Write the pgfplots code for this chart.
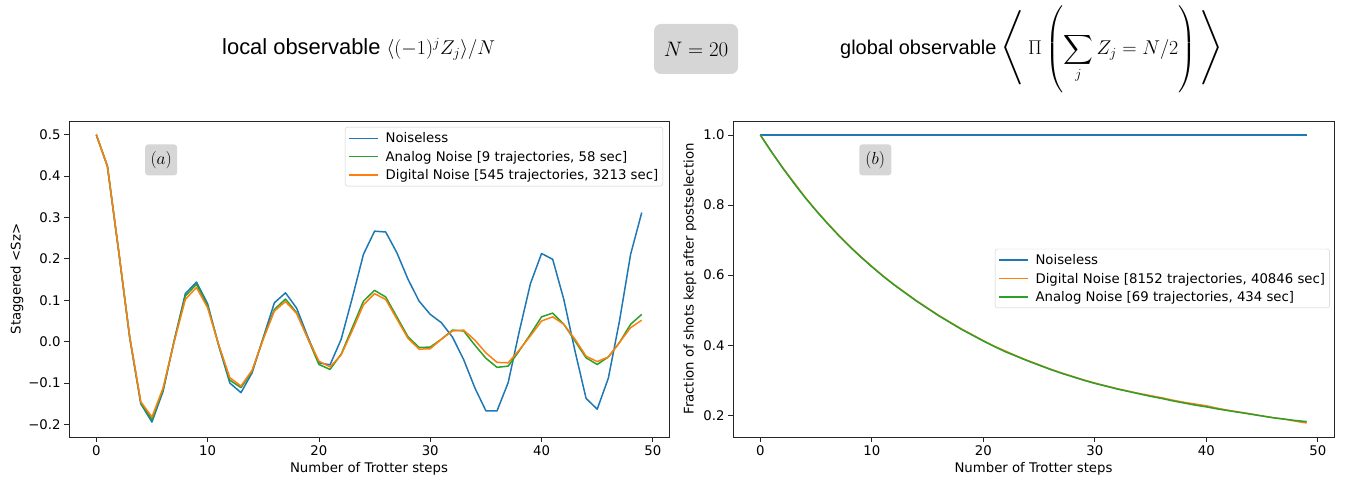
\RequirePackage{fix-cm}
\documentclass[border=0pt]{standalone}
\usepackage{amsmath}
\usepackage{graphicx}
\usepackage{fontspec}
\setmainfont{DejaVu Sans}
\newfontfamily\titlefont{Liberation Sans}
\usepackage{pgfplots}
\pgfplotsset{compat=1.18}
\definecolor{mplblue}{HTML}{1F77B4}
\definecolor{mplorange}{HTML}{FF7F0E}
\definecolor{mplgreen}{HTML}{2CA02C}
\definecolor{boxgray}{HTML}{D6D6D6}
\newcommand{\mplfont}{\fontsize{13.33}{15}\selectfont}
\newcommand{\lgs}{\rule[-3.4bp]{0pt}{14.2bp}}
\pgfplotsset{
  mystyle/.style={
    scale only axis, anchor=south west,
    width=600bp, height=316bp,
    xmin=-2.45, xmax=51.45,
    tick pos=left,
    tick align=outside, major tick length=4.9bp,
    every tick/.style={black!85, line width=0.8bp},
    axis line style={black!85, line width=0.8bp},
    ticklabel style={font=\mplfont},
    xtick={0,10,20,30,40,50}, xticklabels={0,10,20,30,40,50},
    minor tick num=0,
    every axis x label/.style={at={(axis description cs:0.5,0)}, anchor=center, yshift=-32bp, font=\mplfont},
    legend cell align=left,
    legend style={draw=black!20, rounded corners=2.5bp, fill=white, fill opacity=0.8, text opacity=1,
      font=\mplfont, row sep=1bp, inner xsep=2bp, inner ysep=2.5bp,
      nodes={inner sep=2.5bp}},
    legend image code/.code={\draw[#1, line width=1.5bp] (0bp,0bp) -- (29bp,0bp);
      \path (-1.5bp,0bp) (33bp,0bp);},
  },
  ln/.style={line width=1.5bp, line join=round},
}
\begin{document}
\begin{tikzpicture}[x=1bp,y=1bp]
\useasboundingbox (0,0) rectangle (1354,487);
% titles
\node[anchor=base west, inner sep=0pt, font=\fontsize{22}{26}\selectfont] at (222,432)
  {\titlefont local observable {\fontsize{20}{24}\selectfont$\langle(-1)^j Z_j\rangle/N$}};
\node[fill=boxgray, rounded corners=7bp, minimum width=84bp, minimum height=50bp, inner sep=0pt,
  font=\fontsize{21}{25}\selectfont] at (696,438) {$N=20$};
\node[anchor=base west, inner sep=0pt, font=\fontsize{20}{24}\selectfont] at (840,432.5)
  {\titlefont global observable};
\node[inner sep=0pt, font=\fontsize{27}{30}\selectfont] at (1013,439.5)
  {\scalebox{1.2}[1]{$\left\langle\vrule height 44.75bp depth 31.25bp width 0pt\right.$}};
\node[anchor=base west, inner sep=0pt, font=\fontsize{20}{24}\selectfont] at (1028,432.5)
  {$\Pi\left(\vrule height 50bp depth 40bp width 0pt\displaystyle\sum_j Z_j = N/2\right)$};
\node[inner sep=0pt, font=\fontsize{27}{30}\selectfont] at (1211,439.5)
  {\scalebox{1.2}[1]{$\left.\vrule height 44.75bp depth 31.25bp width 0pt\right\rangle$}};

% left axis
\begin{axis}[mystyle, at={(69bp,50bp)},
  ymin=-0.2302, ymax=0.5331,
  ytick={-0.2,-0.1,0,0.1,0.2,0.3,0.4,0.5},
  yticklabels={−0.2,−0.1,0.0,0.1,0.2,0.3,0.4,0.5},
  xlabel={Number of Trotter steps},
  ylabel={Staggered <Sz>},
  every axis y label/.style={at={(axis description cs:-0.0867,0.5)}, rotate=90, anchor=center, font=\mplfont},
  legend style={at={(0.99,0.981)}, anchor=north east},
]
\addplot[mplblue, ln] coordinates {
(0,0.500)(1,0.424)(2,0.220)(3,0.010)(4,-0.150)(5,-0.194)(6,-0.120)(7,0.003)(8,0.116)(9,0.144)
(10,0.092)(11,-0.010)(12,-0.100)(13,-0.123)(14,-0.075)(15,0.010)(16,0.094)(17,0.118)(18,0.081)(19,0.012)
(20,-0.051)(21,-0.056)(22,0.006)(23,0.106)(24,0.211)(25,0.267)(26,0.265)(27,0.215)(28,0.151)(29,0.098)
(30,0.066)(31,0.046)(32,0.011)(33,-0.043)(34,-0.111)(35,-0.167)(36,-0.167)(37,-0.099)(38,0.025)(39,0.140)
(40,0.213)(41,0.199)(42,0.102)(43,-0.022)(44,-0.137)(45,-0.163)(46,-0.088)(47,0.050)(48,0.211)(49,0.312)};
\addlegendentry{\lgs Noiseless}
\addplot[mplgreen, ln] coordinates {
(0,0.500)(1,0.424)(2,0.222)(3,0.012)(4,-0.148)(5,-0.188)(6,-0.115)(7,0.002)(8,0.110)(9,0.139)
(10,0.086)(11,-0.008)(12,-0.093)(13,-0.111)(14,-0.071)(15,0.008)(16,0.078)(17,0.103)(18,0.070)(19,0.008)
(20,-0.055)(21,-0.067)(22,-0.030)(23,0.034)(24,0.098)(25,0.124)(26,0.108)(27,0.060)(28,0.012)(29,-0.014)
(30,-0.013)(31,0.006)(32,0.028)(33,0.026)(34,-0.008)(35,-0.040)(36,-0.062)(37,-0.059)(38,-0.022)(39,0.018)
(40,0.060)(41,0.069)(42,0.042)(43,0.002)(44,-0.039)(45,-0.055)(46,-0.037)(47,-0.002)(48,0.042)(49,0.066)};
\addlegendentry{\lgs Analog Noise [9 trajectories, 58 sec]}
\addplot[mplorange, ln] coordinates {
(0,0.500)(1,0.424)(2,0.222)(3,0.012)(4,-0.145)(5,-0.182)(6,-0.112)(7,0.000)(8,0.102)(9,0.131)
(10,0.082)(11,-0.008)(12,-0.087)(13,-0.107)(14,-0.069)(15,0.006)(16,0.074)(17,0.097)(18,0.068)(19,0.008)
(20,-0.047)(21,-0.061)(22,-0.032)(23,0.027)(24,0.089)(25,0.116)(26,0.102)(27,0.055)(28,0.008)(29,-0.018)
(30,-0.017)(31,0.006)(32,0.026)(33,0.028)(34,0.004)(35,-0.027)(36,-0.050)(37,-0.051)(38,-0.020)(39,0.014)
(40,0.050)(41,0.060)(42,0.042)(43,0.006)(44,-0.035)(45,-0.048)(46,-0.037)(47,-0.002)(48,0.034)(49,0.052)};
\addlegendentry{\lgs Digital Noise [545 trajectories, 3213 sec]}
\node[fill=boxgray, rounded corners=3bp, minimum width=32bp, minimum height=31bp, inner sep=0pt,
  font=\fontsize{17.5}{20}\selectfont] at (axis cs:5.83,0.439) {$(a)$};
\end{axis}

% right axis
\begin{axis}[mystyle, at={(733bp,50bp)}, width=601bp,
  ymin=0.138, ymax=1.04,
  ytick={0.2,0.4,0.6,0.8,1.0},
  yticklabels={0.2,0.4,0.6,0.8,1.0},
  xlabel={Number of Trotter steps},
  ylabel={Fraction of shots kept after postselection},
  every axis y label/.style={at={(axis description cs:-0.0715,0.5)}, rotate=90, anchor=center, font=\mplfont},
  legend style={at={(0.993,0.5016)}, anchor=east},
]
\addplot[mplblue, ln] coordinates {(0,1.0)(49,1.0)};
\addlegendentry{\lgs Noiseless}
\addplot[mplorange, ln] coordinates {
(0,1.000)(1,0.952)(2,0.907)(3,0.865)(4,0.823)(5,0.785)(6,0.749)(7,0.715)(8,0.683)(9,0.653)
(10,0.625)(11,0.598)(12,0.573)(13,0.550)(14,0.527)(15,0.506)(16,0.485)(17,0.466)(18,0.447)(19,0.430)
(20,0.413)(21,0.397)(22,0.383)(23,0.369)(24,0.356)(25,0.344)(26,0.332)(27,0.321)(28,0.311)(29,0.301)
(30,0.292)(31,0.284)(32,0.276)(33,0.269)(34,0.262)(35,0.256)(36,0.250)(37,0.243)(38,0.237)(39,0.232)
(40,0.227)(41,0.220)(42,0.214)(43,0.209)(44,0.204)(45,0.198)(46,0.193)(47,0.189)(48,0.183)(49,0.178)};
\addlegendentry{\lgs Digital Noise [8152 trajectories, 40846 sec]}
\addplot[mplgreen, ln] coordinates {
(0,1.000)(1,0.952)(2,0.906)(3,0.863)(4,0.822)(5,0.784)(6,0.748)(7,0.714)(8,0.682)(9,0.652)
(10,0.624)(11,0.597)(12,0.572)(13,0.549)(14,0.526)(15,0.505)(16,0.484)(17,0.465)(18,0.446)(19,0.429)
(20,0.412)(21,0.396)(22,0.381)(23,0.368)(24,0.355)(25,0.343)(26,0.331)(27,0.320)(28,0.310)(29,0.300)
(30,0.291)(31,0.283)(32,0.275)(33,0.268)(34,0.261)(35,0.254)(36,0.248)(37,0.241)(38,0.235)(39,0.229)
(40,0.224)(41,0.218)(42,0.213)(43,0.208)(44,0.203)(45,0.198)(46,0.193)(47,0.189)(48,0.185)(49,0.182)};
\addlegendentry{\lgs Analog Noise [69 trajectories, 434 sec]}
\node[fill=boxgray, rounded corners=3bp, minimum width=32bp, minimum height=31bp, inner sep=0pt,
  font=\fontsize{17.5}{20}\selectfont] at (axis cs:10.31,0.929) {$(b)$};
\end{axis}
\end{tikzpicture}
\end{document}
